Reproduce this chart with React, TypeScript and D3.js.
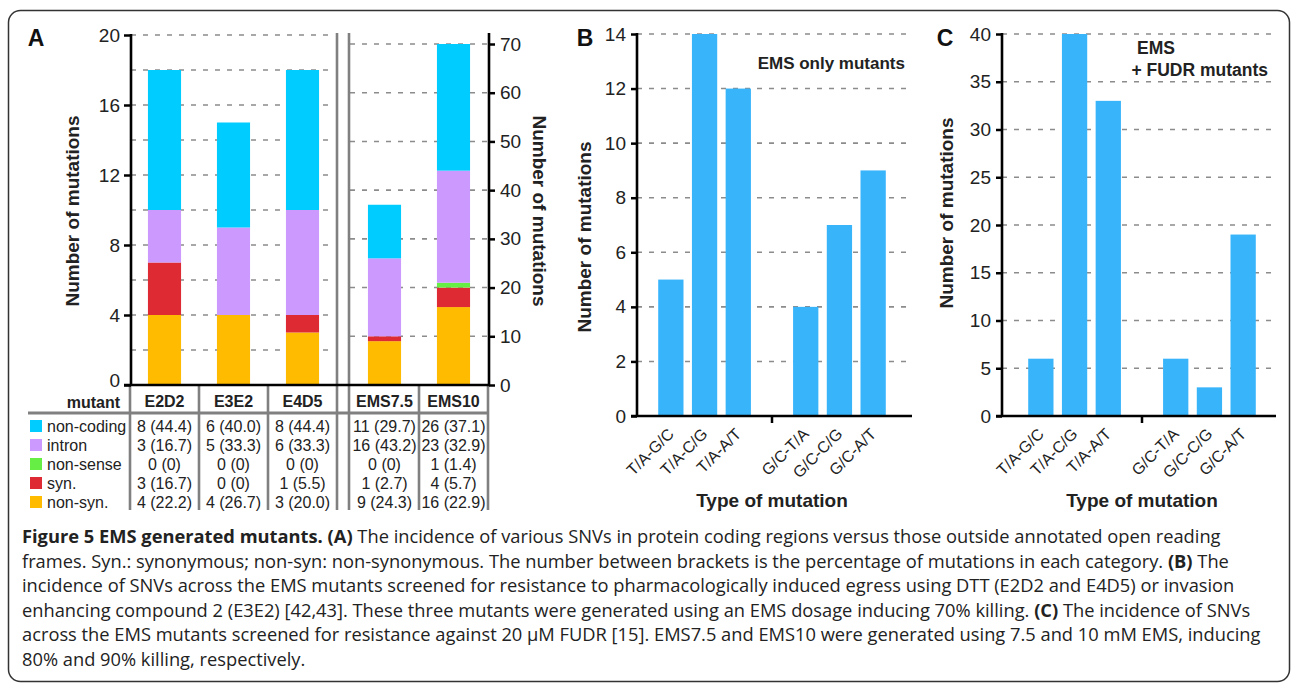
import { useEffect, useRef } from 'react';
import * as d3 from 'd3';

const W = 1292;
const H = 686;

// Panel A data
const mutants = ['E2D2', 'E3E2', 'E4D5', 'EMS7.5', 'EMS10'];
const leftMutants = ['E2D2', 'E3E2', 'E4D5'];
const rightMutants = ['EMS7.5', 'EMS10'];
const categories = ['non-coding', 'intron', 'non-sense', 'syn.', 'non-syn.'];
const categoryColors = ['#00ccff', '#cc99ff', '#66ee44', '#dd2a33', '#ffbb00'];
const nonCoding = [8, 6, 8, 11, 26];
const intron = [3, 5, 6, 16, 23];
const nonSense = [0, 0, 0, 0, 1];
const syn = [3, 0, 1, 1, 4];
const nonSyn = [4, 4, 3, 9, 16];
const nonCodingPct = ['44.4', '40.0', '44.4', '29.7', '37.1'];
const intronPct = ['16.7', '33.3', '33.3', '43.2', '32.9'];
const nonSensePct = ['0', '0', '0', '0', '1.4'];
const synPct = ['16.7', '0', '5.5', '2.7', '5.7'];
const nonSynPct = ['22.2', '26.7', '20.0', '24.3', '22.9'];
const leftTicks = [0, 4, 8, 12, 16, 20];
const leftGrid = [2, 4, 6, 8, 10, 12, 14, 16, 18, 20];
const rightTicks = [0, 10, 20, 30, 40, 50, 60, 70];

// Panels B and C data
const mutationTypes = ['T/A-G/C', 'T/A-C/G', 'T/A-A/T', 'G/C-T/A', 'G/C-C/G', 'G/C-A/T'];
const emsOnly = [5, 14, 12, 4, 7, 9];
const emsFudr = [6, 40, 33, 6, 3, 19];
const ticksB = [0, 2, 4, 6, 8, 10, 12, 14];
const ticksC = [0, 5, 10, 15, 20, 25, 30, 35, 40];

const caption: [string, boolean][][] = [
  [['Figure 5 EMS generated mutants.', true], [' ', false], ['(A)', true], [' The incidence of various SNVs in protein coding regions versus those outside annotated open reading', false]],
  [['frames. Syn.: synonymous; non-syn: non-synonymous. The number between brackets is the percentage of mutations in each category. ', false], ['(B)', true], [' The', false]],
  [['incidence of SNVs across the EMS mutants screened for resistance to pharmacologically induced egress using DTT (E2D2 and E4D5) or invasion', false]],
  [['enhancing compound 2 (E3E2) [42,43]. These three mutants were generated using an EMS dosage inducing 70% killing. ', false], ['(C)', true], [' The incidence of SNVs', false]],
  [['across the EMS mutants screened for resistance against 20 \u03bcM FUDR [15]. EMS7.5 and EMS10 were generated using 7.5 and 10 mM EMS, inducing', false]],
  [['80% and 90% killing, respectively.', false]],
];

const FONT = "'Liberation Sans', Arial, sans-serif";
const GRID = '#8c8c8c';
const TABLE_LINE = '#808080';
const BAR_BLUE = '#38b4fb';

const App = () => {
  const svgRef = useRef<SVGSVGElement>(null);

  useEffect(() => {
    document.body.style.margin = '0';
    if (!svgRef.current) return;
    const svg = d3.select(svgRef.current);
    svg.selectAll('*').remove();

    svg.append('rect')
      .attr('x', 8.5).attr('y', 10.5)
      .attr('width', 1281).attr('height', 671)
      .attr('rx', 12)
      .attr('fill', 'none').attr('stroke', '#333').attr('stroke-width', 1.5);

    // ---------- Panel A ----------
    const baseY = 385;
    const yLeft = d3.scaleLinear().domain([0, 20]).range([baseY, 35]);
    const yRight = d3.scaleLinear().domain([0, 70]).range([baseY, 44]);
    const xLeft = d3.scaleBand().domain(leftMutants).range([130, 337]).paddingInner(0.52).paddingOuter(0.26);
    const xRight = d3.scaleBand().domain(rightMutants).range([350, 488]).paddingInner(0.52).paddingOuter(0.26);
    const isLeft = (m: string) => leftMutants.includes(m);
    const xA = (m: string) => (isLeft(m) ? xLeft(m)! : xRight(m)!);
    const colCenter = (m: string) => xA(m) + xLeft.bandwidth() / 2;

    const a = svg.append('g');

    // gridlines
    a.selectAll('.gl').data(leftGrid).enter().append('line')
      .attr('x1', 131).attr('x2', 331)
      .attr('y1', d => yLeft(d)).attr('y2', d => yLeft(d))
      .attr('stroke', GRID).attr('stroke-width', 1.6).attr('stroke-dasharray', '5,7');
    a.selectAll('.gr').data(rightTicks.slice(1)).enter().append('line')
      .attr('x1', 350).attr('x2', 489)
      .attr('y1', d => yRight(d)).attr('y2', d => yRight(d))
      .attr('stroke', GRID).attr('stroke-width', 1.6).attr('stroke-dasharray', '5,7');

    // stacked bars
    const rows = mutants.map((m, i) => ({
      mutant: m,
      'non-coding': nonCoding[i],
      intron: intron[i],
      'non-sense': nonSense[i],
      'syn.': syn[i],
      'non-syn.': nonSyn[i],
    }));
    const stackKeys = ['non-syn.', 'syn.', 'non-sense', 'intron', 'non-coding'];
    const series = d3.stack<any>().keys(stackKeys)(rows);
    series.forEach(s => {
      const color = categoryColors[categories.indexOf(s.key)];
      a.selectAll(null).data(s).enter().append('rect')
        .attr('x', d => xA(d.data.mutant))
        .attr('width', xLeft.bandwidth())
        .attr('y', d => (isLeft(d.data.mutant) ? yLeft(d[1]) : yRight(d[1])))
        .attr('height', d => {
          const y = isLeft(d.data.mutant) ? yLeft : yRight;
          return y(d[0]) - y(d[1]);
        })
        .attr('fill', color);
    });

    // separator
    [337, 349].forEach(x => {
      a.append('line').attr('x1', x).attr('x2', x).attr('y1', 33).attr('y2', 510)
        .attr('stroke', TABLE_LINE).attr('stroke-width', 2.6);
    });

    // table lines
    const colLines = [
      ...d3.range(leftMutants.length + 1).map(k => 130 + k * xLeft.step()),
      ...d3.range(rightMutants.length + 1).map(k => 350 + k * xRight.step()),
    ].filter(x => Math.abs(x - 337) > 2 && Math.abs(x - 350) > 2);
    colLines.forEach(x => {
      a.append('line').attr('x1', x).attr('x2', x).attr('y1', baseY).attr('y2', 510)
        .attr('stroke', TABLE_LINE).attr('stroke-width', 2.6);
    });
    a.append('line').attr('x1', 28).attr('x2', 489).attr('y1', 413).attr('y2', 413)
      .attr('stroke', TABLE_LINE).attr('stroke-width', 3);

    // axes
    const axL = a.append('g').attr('transform', 'translate(131,0)')
      .call(d3.axisLeft(yLeft).tickValues(leftTicks).tickSize(7).tickSizeOuter(0).tickPadding(4));
    const axR = a.append('g').attr('transform', 'translate(489,0)')
      .call(d3.axisRight(yRight).tickValues(rightTicks).tickSize(6).tickSizeOuter(0).tickPadding(5));
    [axL, axR].forEach(ax => {
      ax.select('.domain').remove();
      ax.selectAll('line').attr('stroke', '#000').attr('stroke-width', 2.5);
      ax.selectAll('text').attr('font-family', FONT).attr('font-size', 19).attr('fill', '#222');
    });
    axL.selectAll('text').filter(d => d === 0).attr('dy', '0.1em');
    a.append('line').attr('x1', 131).attr('x2', 131).attr('y1', 34).attr('y2', baseY + 1)
      .attr('stroke', '#000').attr('stroke-width', 2.6);
    a.append('line').attr('x1', 489).attr('x2', 489).attr('y1', 33).attr('y2', baseY + 1)
      .attr('stroke', '#000').attr('stroke-width', 2.6);
    a.append('line').attr('x1', 124).attr('x2', 490).attr('y1', baseY).attr('y2', baseY)
      .attr('stroke', '#000').attr('stroke-width', 2.6);

    // axis titles
    a.append('text').attr('transform', 'translate(72,211) rotate(-90)')
      .attr('text-anchor', 'middle').attr('dominant-baseline', 'central')
      .attr('font-family', FONT).attr('font-weight', 'bold').attr('font-size', 19).attr('fill', '#222')
      .text('Number of mutations');
    a.append('text').attr('transform', 'translate(539,211) rotate(90)')
      .attr('text-anchor', 'middle').attr('dominant-baseline', 'central')
      .attr('font-family', FONT).attr('font-weight', 'bold').attr('font-size', 19).attr('fill', '#222')
      .text('Number of mutations');

    // table header
    a.append('text').attr('x', 120).attr('y', 402).attr('text-anchor', 'end')
      .attr('dominant-baseline', 'central')
      .attr('font-family', FONT).attr('font-weight', 'bold').attr('font-size', 16).attr('fill', '#222')
      .text('mutant');
    a.selectAll('.hdr').data(mutants).enter().append('text')
      .attr('x', d => colCenter(d)).attr('y', 401)
      .attr('text-anchor', 'middle').attr('dominant-baseline', 'central')
      .attr('font-family', FONT).attr('font-weight', 'bold').attr('font-size', 16).attr('fill', '#222')
      .text(d => d);

    // table rows
    const values = [nonCoding, intron, nonSense, syn, nonSyn];
    const pcts = [nonCodingPct, intronPct, nonSensePct, synPct, nonSynPct];
    categories.forEach((cat, r) => {
      const y = 426 + r * 19;
      a.append('rect').attr('x', 30).attr('y', y - 6).attr('width', 12).attr('height', 12)
        .attr('fill', categoryColors[r]);
      a.append('text').attr('x', 47).attr('y', y).attr('dominant-baseline', 'central')
        .attr('font-family', FONT).attr('font-size', 16).attr('fill', '#222').text(cat);
      mutants.forEach((m, c) => {
        a.append('text').attr('x', colCenter(m)).attr('y', y)
          .attr('text-anchor', 'middle').attr('dominant-baseline', 'central')
          .attr('font-family', FONT).attr('font-size', 16).attr('fill', '#222')
          .text(`${values[r][c]} (${pcts[r][c]})`);
      });
    });

    // ---------- Panels B and C ----------
    const drawPanel = (opts: {
      axisX: number; rangeStart: number; endX: number; data: number[]; max: number; ticks: number[];
      yTitleX: number; yTitleY: number;
    }) => {
      const g = svg.append('g');
      const y = d3.scaleLinear().domain([0, opts.max]).range([416, 34]);
      const slots = [...mutationTypes.slice(0, 3), 'gap', ...mutationTypes.slice(3)];
      const x = d3.scaleBand().domain(slots).range([opts.rangeStart, opts.rangeStart + 236])
        .paddingInner(0.25).paddingOuter(0.125);

      g.selectAll(null).data(opts.ticks.slice(1)).enter().append('line')
        .attr('x1', opts.axisX).attr('x2', opts.endX - 2)
        .attr('y1', d => y(d)).attr('y2', d => y(d))
        .attr('stroke', GRID).attr('stroke-width', 1.6).attr('stroke-dasharray', '5,7');

      g.selectAll(null).data(mutationTypes).enter().append('rect')
        .attr('x', d => x(d)!)
        .attr('width', x.bandwidth())
        .attr('y', (_, i) => y(opts.data[i]))
        .attr('height', (_, i) => y(0) - y(opts.data[i]))
        .attr('fill', BAR_BLUE);

      const ax = g.append('g').attr('transform', `translate(${opts.axisX},0)`)
        .call(d3.axisLeft(y).tickValues(opts.ticks).tickSize(6).tickSizeOuter(0).tickPadding(5));
      ax.select('.domain').remove();
      ax.selectAll('line').attr('stroke', '#000').attr('stroke-width', 2.5);
      ax.selectAll('text').attr('font-family', FONT).attr('font-size', 19).attr('fill', '#222');

      g.append('line').attr('x1', opts.axisX).attr('x2', opts.axisX).attr('y1', 33).attr('y2', 417)
        .attr('stroke', '#000').attr('stroke-width', 2.6);
      g.append('line').attr('x1', opts.axisX - 6).attr('x2', opts.endX).attr('y1', 416).attr('y2', 416)
        .attr('stroke', '#000').attr('stroke-width', 2.6);
      const gapX = x('gap')! + x.bandwidth() / 2;
      g.append('line').attr('x1', gapX).attr('x2', gapX).attr('y1', 416).attr('y2', 423)
        .attr('stroke', '#000').attr('stroke-width', 2.5);

      g.selectAll(null).data(mutationTypes).enter().append('text')
        .attr('transform', d => `translate(${x(d)! + x.bandwidth() / 2 + 4},435) rotate(-45)`)
        .attr('text-anchor', 'end')
        .attr('font-family', FONT).attr('font-size', 16).attr('fill', '#222')
        .text(d => d);

      g.append('text').attr('transform', `translate(${opts.yTitleX},${opts.yTitleY}) rotate(-90)`)
        .attr('text-anchor', 'middle').attr('dominant-baseline', 'central')
        .attr('font-family', FONT).attr('font-weight', 'bold').attr('font-size', 19).attr('fill', '#222')
        .text('Number of mutations');
      g.append('text').attr('x', gapX).attr('y', 500)
        .attr('text-anchor', 'middle').attr('dominant-baseline', 'central')
        .attr('font-family', FONT).attr('font-weight', 'bold').attr('font-size', 19).attr('fill', '#222')
        .text('Type of mutation');
      return g;
    };

    const gB = drawPanel({ axisX: 637, rangeStart: 654, endX: 912, data: emsOnly, max: 14, ticks: ticksB, yTitleX: 584, yTitleY: 237 });
    gB.append('text').attr('x', 905).attr('y', 63).attr('text-anchor', 'end')
      .attr('dominant-baseline', 'central')
      .attr('font-family', FONT).attr('font-weight', 'bold').attr('font-size', 17).attr('fill', '#222')
      .text('EMS only mutants');

    const gC = drawPanel({ axisX: 1002, rangeStart: 1024, endX: 1276, data: emsFudr, max: 40, ticks: ticksC, yTitleX: 946, yTitleY: 213 });
    gC.append('text').attr('x', 1156).attr('y', 48).attr('text-anchor', 'middle')
      .attr('dominant-baseline', 'central')
      .attr('font-family', FONT).attr('font-weight', 'bold').attr('font-size', 17.5).attr('fill', '#222')
      .text('EMS');
    gC.append('text').attr('x', 1268).attr('y', 70).attr('text-anchor', 'end')
      .attr('dominant-baseline', 'central')
      .attr('font-family', FONT).attr('font-weight', 'bold').attr('font-size', 17.5).attr('fill', '#222')
      .text('+ FUDR mutants');

    // panel letters
    [['A', 36], ['B', 585], ['C', 945]].forEach(([t, x]) => {
      svg.append('text').attr('x', x as number).attr('y', 38)
        .attr('text-anchor', 'middle').attr('dominant-baseline', 'central')
        .attr('font-family', FONT).attr('font-weight', 'bold').attr('font-size', 23).attr('fill', '#111')
        .text(t as string);
    });

    // caption
    caption.forEach((line, i) => {
      const t = svg.append('text').attr('x', 22).attr('y', 543 + i * 24.5)
        .attr('font-family', "'Open Sans', sans-serif").attr('font-size', 18.3).attr('fill', '#222');
      line.forEach(([s, bold]) => {
        t.append('tspan').attr('font-weight', bold ? 'bold' : 'normal').text(s);
      });
    });
  }, []);

  return <svg ref={svgRef} width={W} height={H} style={{ display: 'block', background: '#fff' }} />;
};

export default App;
